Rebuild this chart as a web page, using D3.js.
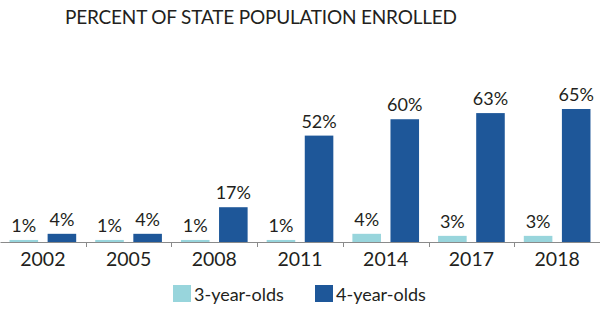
<!DOCTYPE html>
<html>
<head>
<meta charset="utf-8">
<script src="https://cdn.jsdelivr.net/npm/d3@7"></script>
<style>
  body { margin: 0; background: #fff; }
  text { font-family: Lato, "Open Sans", sans-serif; fill: #231f20; }
</style>
</head>
<body>
<script>
// chart values
var years = ['2002', '2005', '2008', '2011', '2014', '2017', '2018'];
var seriesNames = ['3-year-olds', '4-year-olds'];
var threeYearOlds = [1, 1, 1, 1, 4, 3, 3];
var fourYearOlds = [4, 4, 17, 52, 60, 63, 65];
var colors = ['#98d5dc', '#1e5799'];

var width = 600,
    height = 321,
    axisY = 242;

var svg = d3.select('body').append('svg')
    .attr('width', width)
    .attr('height', height);

// title
svg.append('text')
    .attr('x', 261)
    .attr('y', 24)
    .attr('text-anchor', 'middle')
    .attr('textLength', 392)
    .style('font-size', '19px')
    .text('PERCENT OF STATE POPULATION ENROLLED');

var data = years.map(function (y, i) {
    return {year: y, values: [threeYearOlds[i], fourYearOlds[i]]};
});

var x0 = d3.scaleBand().domain(years).range([0, width]);
var x1 = d3.scaleBand().domain(seriesNames)
    .range([0, x0.bandwidth()])
    .paddingInner(0.25)
    .paddingOuter(0.25);
var y = d3.scaleLinear().domain([0, 65]).range([axisY, 109]);

var groups = svg.selectAll('.group')
    .data(data)
    .enter().append('g')
    .attr('class', 'group')
    .attr('transform', function (d) { return 'translate(' + x0(d.year) + ',0)'; });

groups.selectAll('rect')
    .data(function (d) { return d.values.map(function (v, i) { return {name: seriesNames[i], value: v}; }); })
    .enter().append('rect')
    .attr('x', function (d) { return x1(d.name); })
    .attr('y', function (d) { return y(d.value); })
    .attr('width', x1.bandwidth())
    .attr('height', function (d) { return axisY - y(d.value); })
    .attr('fill', function (d, i) { return colors[i]; });

groups.selectAll('.label')
    .data(function (d) { return d.values.map(function (v, i) { return {name: seriesNames[i], value: v}; }); })
    .enter().append('text')
    .attr('class', 'label')
    .attr('x', function (d) { return x1(d.name) + x1.bandwidth() / 2; })
    .attr('y', function (d) { return y(d.value) - 8; })
    .attr('text-anchor', 'middle')
    .style('font-size', '18px')
    .text(function (d) { return d.value + '%'; });

// x axis
var xAxis = d3.axisBottom(x0).tickSize(0).tickPadding(10);
var gx = svg.append('g')
    .attr('transform', 'translate(0,' + axisY + ')')
    .call(xAxis);
gx.select('.domain').attr('stroke', '#8a8a8a').attr('stroke-width', 1.2);
gx.selectAll('text').style('font-size', '19.5px').attr('fill', '#231f20')
    .style('font-family', 'Lato, sans-serif');

// tick marks between categories
gx.selectAll('.sep')
    .data(years.slice(1))
    .enter().append('line')
    .attr('x1', function (d) { return Math.round(x0(d)) + 0.5; })
    .attr('x2', function (d) { return Math.round(x0(d)) + 0.5; })
    .attr('y1', 0)
    .attr('y2', 5)
    .attr('stroke', '#8a8a8a');

// legend
var legendX = [173, 315];
var legend = svg.selectAll('.legend')
    .data(seriesNames)
    .enter().append('g')
    .attr('class', 'legend')
    .attr('transform', function (d, i) { return 'translate(' + legendX[i] + ',285)'; });

legend.append('rect')
    .attr('width', 18)
    .attr('height', 17)
    .attr('fill', function (d, i) { return colors[i]; });

legend.append('text')
    .attr('x', 21)
    .attr('y', 15.5)
    .style('font-size', '18px')
    .text(function (d) { return d; });
</script>
</body>
</html>
